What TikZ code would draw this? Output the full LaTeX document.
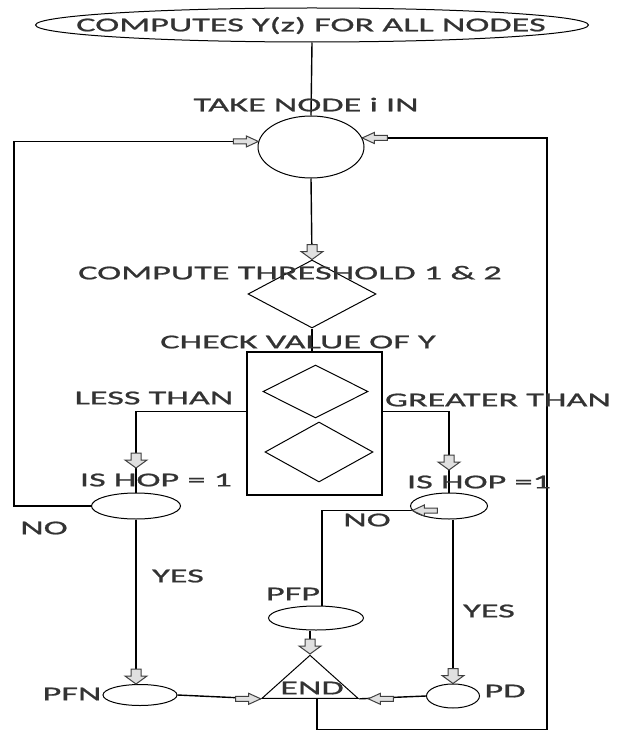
\documentclass[tikz,border=0pt]{standalone}
\usepackage{fontspec}
\setmainfont{Carlito}
\newfontfamily\flowfont[FakeStretch=1.84,FakeBold=1]{Carlito}
\usepackage{tikz}
\usetikzlibrary{positioning,shapes.geometric}
\definecolor{ink}{HTML}{333333}

\begin{document}
\begin{tikzpicture}[x=1pt, y=-1pt,
  lbl/.style={font=\flowfont\fontsize{19.7}{22}\selectfont, text=ink, inner sep=0pt, text height=12.7pt, text depth=0pt},
  oval/.style={draw, ellipse, line width=1pt, inner sep=0pt},
  conn/.style={line width=1.4pt},
  hollow/.style={draw=black!75, fill=black!12, line width=1pt},
  darr/.pic={\path[hollow] (-5,-15) -- (5,-15) -- (5,-8) -- (11,-8) -- (0,0) -- (-11,-8) -- (-5,-8) -- cycle;},
  rarr/.pic={\path[hollow] (-25,-2.5) -- (-12,-2.5) -- (-12,-5.5) -- (0,0) -- (-12,5.5) -- (-12,2.5) -- (-25,2.5) -- cycle;},
  larr/.pic={\path[hollow] (25,-2.5) -- (12,-2.5) -- (12,-5.5) -- (0,0) -- (12,5.5) -- (12,2.5) -- (25,2.5) -- cycle;}]
\fill[white] (0,0) rectangle (616,730);
\useasboundingbox (0,0) rectangle (616,730);

\node[oval, minimum width=553pt, minimum height=34pt] (start) at (312,25) {};
\node[oval, minimum width=106pt, minimum height=62pt] (take) at (311,147) {};
\node[draw, diamond, line width=1pt, inner sep=0pt, minimum width=128pt, minimum height=68pt] (thresh) at (312,294) {};
\node[draw, line width=1.2pt, inner sep=0pt, minimum width=135pt, minimum height=143pt] (check) at (314.5,423.5) {};
\node[draw, diamond, line width=1pt, inner sep=0pt, minimum width=105pt, minimum height=53pt] (cmpone) at (315.5,391.5) {};
\node[draw, diamond, line width=1pt, inner sep=0pt, minimum width=108pt, minimum height=60pt] (cmptwo) at (319,452) {};
\node[oval, minimum width=89pt, minimum height=26pt] (lhop) at (136,506) {};
\node[oval, minimum width=77pt, minimum height=26pt] (rhop) at (449,506) {};
\node[oval, minimum width=95pt, minimum height=24pt] (pfp) at (316,618) {};
\node[oval, minimum width=74pt, minimum height=21pt] (pfn) at (140,695) {};
\node[oval, minimum width=53pt, minimum height=24pt] (pd) at (453,696) {};
\node[draw, isosceles triangle, shape border rotate=90, isosceles triangle stretches, line width=1pt, inner sep=0pt,
  minimum width=96pt, minimum height=43pt, anchor=apex] (endtri) at (310,654) {};

\coordinate (lcorner) at (14,300);
\coordinate (rcorner) at (547,730);
\coordinate (ldrop) at (lhop.north |- 0,468);
\coordinate (rdrop) at (rhop.north |- 0,470);

\draw[conn] (start.south) -- (take.north);
\draw[conn] (take.south) -- (thresh.north);
\draw[conn] (thresh.south) -- (thresh.south |- check.north);
\draw[conn] (check.170) -| (lhop.north);
\draw[conn] (check.10) -| (rhop.north);
\draw[conn] (lhop.west) -| (lcorner) |- (take.174);
\draw[conn] ([xshift=7pt]endtri.south) |- (rcorner) |- (take.10);
\draw[conn] (rhop.187) -| ([xshift=6pt]pfp.north);
\draw[conn] (lhop.south) -- (lhop.south |- pfn.north);
\draw[conn] (rhop.south -| pd.north) -- (pd.north);
\draw[conn] (pfp.south -| endtri.apex) -- (endtri.apex);
\draw[conn] (pfn.east) -- (endtri.left corner);
\draw[conn] (pd.west) -- (endtri.right corner);

\pic at (take.174) {rarr};
\pic at (take.10) {larr};
\pic at (thresh.north) {darr};
\pic at (ldrop) {darr};
\pic at (rdrop) {darr};
\pic at (rhop.187) {larr};
\pic at (lhop.south |- pfn.north) {darr};
\pic at (pd.north) {darr};
\pic at (endtri.apex) {darr};
\pic at (endtri.left corner) {rarr};
\pic at ([xshift=9pt]endtri.right corner) {larr};

\node[lbl] (startlbl) at (311,25) {COMPUTES Y(z) FOR ALL NODES};
\node[lbl] (takelbl) at (306,105) {TAKE NODE i IN};
\node[lbl] (threshlbl) at (290,273) {COMPUTE THRESHOLD 1 \& 2};
\node[lbl] (checklbl) at (298,342) {CHECK VALUE OF Y};
\node[lbl] (lesslbl) at (154,398) {LESS THAN};
\node[lbl] (greaterlbl) at (498,400) {GREATER THAN};
\node[lbl] (lhoplbl) at (156,480) {IS HOP = 1};
\node[lbl] (rhoplbl) at (479,482) {IS HOP =1};
\node[lbl] (lno) at (44,528) {NO};
\node[lbl] (rno) at (367,520) {NO};
\node[lbl] (lyes) at (178,576) {YES};
\node[lbl] (ryes) at (489,611) {YES};
\node[lbl] (pfplbl) at (293,594) {PFP};
\node[lbl] (endlbl) at (312,688) {END};
\node[lbl] (pfnlbl) at (72,694) {PFN};
\node[lbl] (pdlbl) at (505,691) {PD};
\end{tikzpicture}
\end{document}
